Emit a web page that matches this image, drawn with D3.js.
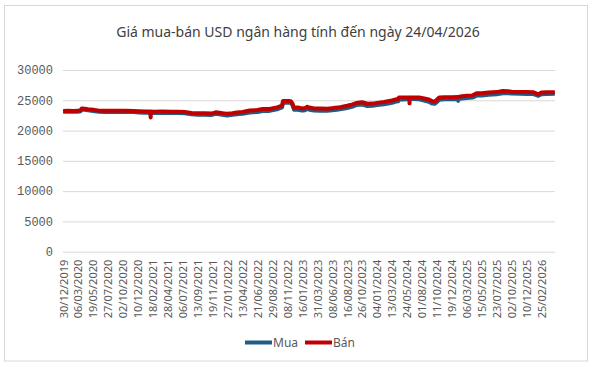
<!DOCTYPE html>
<html>

<head>
    <meta charset="utf-8">
    <script src="https://d3js.org/d3.v7.min.js"></script>
    <title>USD</title>
    <style>
        body { margin: 0; background: #fff; }
    </style>
</head>

<body>
    <svg></svg>
    <script>
        // daily series (selected days)
        const dates = ["30/12/2019", "20/01/2020", "14/02/2020", "05/03/2020", "18/03/2020", "24/03/2020", "07/04/2020",
            "24/04/2020", "20/05/2020", "15/06/2020", "15/07/2020", "01/09/2020", "15/10/2020", "20/11/2020",
            "15/12/2020", "15/01/2021", "05/02/2021", "08/02/2021", "09/02/2021", "22/02/2021", "01/04/2021",
            "15/05/2021", "15/06/2021", "15/07/2021", "16/08/2021", "15/09/2021", "15/10/2021", "15/11/2021",
            "03/12/2021", "20/12/2021", "10/01/2022", "25/01/2022", "21/02/2022", "15/03/2022", "13/04/2022",
            "16/05/2022", "21/06/2022", "15/07/2022", "15/08/2022", "20/09/2022", "14/10/2022", "18/10/2022",
            "16/11/2022", "24/11/2022", "01/12/2022", "09/12/2022", "26/12/2022", "16/01/2023", "30/01/2023",
            "08/02/2023", "20/02/2023", "15/03/2023", "14/04/2023", "15/05/2023", "08/06/2023", "30/06/2023",
            "20/07/2023", "16/08/2023", "11/09/2023", "28/09/2023", "26/10/2023", "20/11/2023", "15/12/2023",
            "04/01/2024", "05/02/2024", "13/03/2024", "01/04/2024", "12/04/2024", "16/04/2024", "02/05/2024",
            "24/05/2024", "04/06/2024", "05/06/2024", "06/06/2024", "01/07/2024", "19/07/2024", "12/08/2024",
            "03/09/2024", "20/09/2024", "30/09/2024", "11/10/2024", "22/10/2024", "15/11/2024", "19/12/2024",
            "20/01/2025", "21/01/2025", "22/01/2025", "10/02/2025", "06/03/2025", "01/04/2025", "21/04/2025",
            "15/05/2025", "16/06/2025", "23/07/2025", "21/08/2025", "15/09/2025", "02/10/2025", "10/11/2025",
            "10/12/2025", "15/01/2026", "09/02/2026", "25/02/2026", "20/03/2026", "24/04/2026"];
        const mua = [23110, 23120, 23110, 23120, 23200, 23460, 23420,
            23340, 23240, 23110, 23080, 23080, 23080, 23060,
            22990, 22950, 22930, 22930, 22930, 22910, 22920,
            22900, 22880, 22840, 22680, 22630, 22630, 22580,
            22780, 22690, 22560, 22480, 22590, 22700, 22760,
            22990, 23080, 23240, 23250, 23520, 23820, 24600,
            24630, 24560, 24230, 23430, 23450, 23290, 23350,
            23580, 23450, 23300, 23290, 23270, 23350, 23450,
            23550, 23730, 23970, 24200, 24300, 24050, 24080,
            24200, 24350, 24600, 24790, 24840, 25120, 25130,
            25190, 25200, 25200, 25200, 25210, 25150, 24940,
            24760, 24450, 24420, 24700, 25090, 25170, 25150,
            25200, 24900, 25200, 25300, 25360, 25440, 25770,
            25800, 25920, 25980, 26150, 26180, 26100, 26090,
            26050, 26030, 25750, 26000, 26050, 26060];
        const ban = [23230, 23260, 23250, 23260, 23380, 23660, 23600,
            23520, 23420, 23290, 23260, 23260, 23260, 23250,
            23200, 23150, 23130, 22150, 23130, 23120, 23130,
            23110, 23100, 23070, 22910, 22860, 22860, 22810,
            23010, 22930, 22840, 22760, 22870, 22990, 23070,
            23300, 23390, 23550, 23560, 23830, 24120, 24870,
            24870, 24860, 24500, 23760, 23800, 23660, 23720,
            23930, 23800, 23640, 23630, 23610, 23700, 23790,
            23900, 24100, 24320, 24550, 24670, 24420, 24450,
            24570, 24720, 24970, 25160, 25210, 25480, 25460,
            25460, 25460, 24500, 25460, 25460, 25470, 25300,
            25130, 24820, 24790, 25080, 25450, 25500, 25510,
            25560, 25560, 25560, 25680, 25730, 25800, 26150,
            26170, 26290, 26350, 26520, 26500, 26400, 26360,
            26370, 26330, 25980, 26300, 26330, 26340];
        // category labels shown on the axis (one every 48 trading days)
        const tickLabels = ["30/12/2019", "06/03/2020", "19/05/2020", "27/07/2020", "02/10/2020", "10/12/2020",
            "18/02/2021", "28/04/2021", "06/07/2021", "13/09/2021", "19/11/2021", "27/01/2022", "13/04/2022",
            "21/06/2022", "29/08/2022", "08/11/2022", "16/01/2023", "31/03/2023", "08/06/2023", "16/08/2023",
            "26/10/2023", "04/01/2024", "13/03/2024", "24/05/2024", "01/08/2024", "11/10/2024", "19/12/2024",
            "06/03/2025", "15/05/2025", "23/07/2025", "02/10/2025", "10/12/2025", "25/02/2026"];
        const lastDay = "24/04/2026";
        const yTicks = [0, 5000, 10000, 15000, 20000, 25000, 30000];
        const seriesNames = ["Mua", "Bán"];

        const width = 594;
        const height = 367;
        const plotL = 63, plotR = 555, plotT = 70, plotB = 251.7;
        const labelStep = 48, nDays = 1580;
        const colors = ["#1f5c87", "#c00000"];

        const parse = d3.timeParse("%d/%m/%Y");
        const fmt = d3.timeFormat("%d/%m/%Y");

        const svg = d3.select("svg")
            .attr("width", width)
            .attr("height", height)
            .style("font-family", "'Noto Sans', sans-serif");

        svg.append("rect")
            .attr("x", 4.5).attr("y", 5.5)
            .attr("width", 583).attr("height", 355.5)
            .attr("fill", "#fff")
            .attr("stroke", "#d9d9d9");

        svg.append("text")
            .attr("x", 298).attr("y", 37)
            .attr("text-anchor", "middle")
            .attr("fill", "#404040")
            .style("font-size", "14px")
            .text("Giá mua-bán USD ngân hàng tính đến ngày 24/04/2026");

        // trading-day category axis: labels are evenly spaced
        const dayW = (plotR - plotL) / nDays;
        const xDomain = tickLabels.concat([lastDay]).map(parse);
        const xRange = tickLabels.map((d, i) => plotL + (i * labelStep + 0.5) * dayW)
            .concat([plotL + (nDays - 0.5) * dayW]);
        const x = d3.scaleTime().domain(xDomain).range(xRange);
        const y = d3.scaleLinear().domain([0, 30000]).range([plotB, plotT]);

        const yAxis = svg.append("g")
            .attr("transform", `translate(${plotL},0)`)
            .call(d3.axisLeft(y).tickValues(yTicks).tickFormat(d3.format("d"))
                .tickSize(-(plotR - plotL)).tickPadding(10));
        yAxis.select(".domain").remove();
        yAxis.selectAll("line").attr("stroke", "#d9d9d9");
        yAxis.selectAll("text")
            .attr("fill", "#595959")
            .style("font-family", "'Liberation Mono', monospace")
            .style("font-size", "12px");

        const xAxis = svg.append("g")
            .attr("transform", `translate(0,${plotB})`)
            .call(d3.axisBottom(x).tickValues(tickLabels.map(parse)).tickFormat(fmt).tickSize(0));
        xAxis.select(".domain").remove();
        xAxis.selectAll("text")
            .attr("transform", "rotate(-90)")
            .attr("x", -8).attr("y", 0).attr("dy", "0.35em")
            .attr("fill", "#595959")
            .style("text-anchor", "end")
            .style("font-family", "'Noto Sans', sans-serif")
            .style("font-size", "11px");

        const rows = dates.map((d, i) => ({ date: parse(d), v: [mua[i], ban[i]] }));
        [0, 1].forEach(k => {
            const line = d3.line()
                .x(d => x(d.date))
                .y(d => y(d.v[k]));
            svg.append("path")
                .datum(rows)
                .attr("d", line)
                .attr("fill", "none")
                .attr("stroke", colors[k])
                .attr("stroke-width", 4)
                .attr("stroke-linejoin", "round");
        });

        // legend
        const legendX = [245, 305];
        const legend = svg.selectAll(".legend")
            .data(seriesNames)
            .enter()
            .append("g")
            .attr("transform", (d, i) => `translate(${legendX[i]},342.5)`);
        legend.append("line")
            .attr("x1", 0).attr("x2", 27)
            .attr("stroke", (d, i) => colors[i])
            .attr("stroke-width", 4);
        legend.append("text")
            .attr("x", 28).attr("dy", "0.35em")
            .attr("fill", "#595959")
            .style("font-size", "12px")
            .text(d => d);
    </script>
</body>

</html>
